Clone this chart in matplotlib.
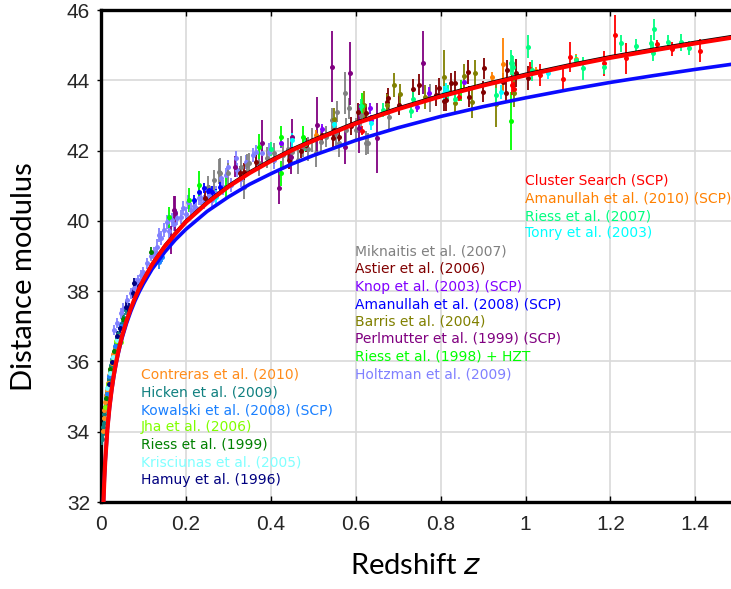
import matplotlib
matplotlib.use('Agg')
import matplotlib.pyplot as plt

# model curves (distance modulus vs redshift)
z_model = [0.005, 0.006, 0.008, 0.01, 0.015, 0.02, 0.025, 0.03, 0.035, 0.04, 0.045, 0.05, 0.06, 0.07,
           0.08, 0.09, 0.1, 0.12, 0.15, 0.175, 0.2, 0.25, 0.3, 0.35, 0.4, 0.45, 0.5, 0.6, 0.7, 0.8,
           0.9, 1.0, 1.1, 1.2, 1.3, 1.4, 1.5]
mu_lcdm = [31.66, 32.06, 32.69, 33.18, 34.07, 34.70, 35.19, 35.60, 35.94, 36.24, 36.50, 36.74, 37.15,
           37.50, 37.81, 38.08, 38.32, 38.75, 39.27, 39.63, 39.97, 40.51, 40.97, 41.36, 41.70, 42.01,
           42.28, 42.77, 43.18, 43.54, 43.85, 44.14, 44.40, 44.64, 44.85, 45.05, 45.24]
mu_eds = [31.66, 32.05, 32.68, 33.16, 34.05, 34.67, 35.16, 35.56, 35.90, 36.19, 36.45, 36.68, 37.08,
          37.42, 37.72, 37.98, 38.21, 38.62, 39.11, 39.46, 39.76, 40.27, 40.68, 41.04, 41.34, 41.62,
          41.86, 42.29, 42.65, 42.97, 43.25, 43.50, 43.73, 43.94, 44.13, 44.31, 44.48]
mu_fit = [31.74, 32.14, 32.77, 33.25, 34.14, 34.77, 35.26, 35.67, 36.00, 36.30, 36.56, 36.80, 37.21,
          37.56, 37.87, 38.14, 38.38, 38.81, 39.33, 39.69, 40.03, 40.57, 41.03, 41.42, 41.76, 42.07,
          42.34, 42.83, 43.24, 43.60, 43.91, 44.20, 44.46, 44.70, 44.91, 45.11, 45.30]

# supernova samples: (z, mu, err)
holtzman = [(0.031, 36.90, 0.15), (0.038, 37.09, 0.15), (0.046, 37.37, 0.15), (0.052, 37.50, 0.15),
            (0.062, 37.75, 0.15), (0.070, 37.94, 0.15), (0.078, 38.08, 0.15), (0.082, 38.22, 0.15),
            (0.086, 38.32, 0.15), (0.094, 38.46, 0.15), (0.100, 38.55, 0.15), (0.109, 38.79, 0.15),
            (0.117, 39.00, 0.15), (0.125, 39.05, 0.2), (0.129, 39.08, 0.15), (0.133, 39.27, 0.2),
            (0.137, 39.60, 0.2), (0.141, 39.50, 0.2), (0.149, 39.75, 0.2), (0.156, 39.98, 0.2),
            (0.160, 39.70, 0.2), (0.168, 40.03, 0.2), (0.172, 39.90, 0.2), (0.180, 40.07, 0.2),
            (0.188, 40.10, 0.2), (0.192, 40.36, 0.2), (0.200, 40.20, 0.2), (0.206, 40.55, 0.2),
            (0.211, 40.31, 0.2), (0.219, 40.41, 0.2), (0.223, 40.36, 0.2), (0.231, 40.64, 0.2),
            (0.235, 40.64, 0.2), (0.243, 40.55, 0.2), (0.251, 40.69, 0.2), (0.255, 40.74, 0.2),
            (0.262, 40.60, 0.2), (0.270, 40.79, 0.2), (0.282, 41.21, 0.2), (0.288, 40.95, 0.2),
            (0.294, 41.31, 0.2), (0.298, 41.54, 0.2), (0.306, 41.02, 0.2), (0.318, 41.78, 0.2),
            (0.321, 41.45, 0.2), (0.330, 41.20, 0.25), (0.341, 41.68, 0.2), (0.357, 41.87, 0.2),
            (0.365, 41.97, 0.2), (0.372, 41.55, 0.25), (0.380, 41.92, 0.2), (0.396, 41.97, 0.25),
            (0.408, 41.73, 0.25)]
hicken = [(0.003, 33.78, 0.15), (0.004, 33.95, 0.12), (0.005, 34.12, 0.12), (0.006, 34.25, 0.1),
          (0.007, 34.38, 0.12), (0.008, 34.50, 0.1), (0.009, 34.62, 0.1), (0.010, 34.70, 0.12),
          (0.011, 34.83, 0.1), (0.012, 34.92, 0.1), (0.013, 35.02, 0.12), (0.014, 35.10, 0.1),
          (0.015, 35.22, 0.1), (0.016, 35.28, 0.12), (0.018, 35.46, 0.1), (0.019, 35.52, 0.1),
          (0.021, 35.70, 0.12), (0.023, 35.82, 0.1), (0.024, 35.90, 0.1), (0.026, 36.03, 0.12),
          (0.028, 36.15, 0.1), (0.030, 36.24, 0.1), (0.032, 36.36, 0.12), (0.035, 36.50, 0.1),
          (0.038, 36.66, 0.12), (0.041, 36.78, 0.1), (0.045, 36.96, 0.12), (0.049, 37.06, 0.1),
          (0.054, 37.25, 0.12), (0.060, 37.45, 0.12)]
contreras = [(0.004, 34.02, 0.12), (0.006, 34.40, 0.1), (0.008, 34.62, 0.1), (0.010, 34.85, 0.12),
             (0.012, 35.05, 0.1), (0.014, 35.20, 0.1), (0.017, 35.40, 0.12), (0.020, 35.62, 0.1),
             (0.022, 35.78, 0.1), (0.025, 35.95, 0.12), (0.029, 36.20, 0.1), (0.033, 36.42, 0.12),
             (0.040, 36.72, 0.1)]
kowalski = [(0.013, 35.08, 0.12), (0.020, 35.58, 0.12), (0.027, 36.08, 0.1), (0.034, 36.45, 0.12),
            (0.047, 37.00, 0.12), (0.137, 38.83, 0.2), (0.143, 38.98, 0.15)]
jha = [(0.009, 34.70, 0.12), (0.016, 35.35, 0.12), (0.025, 36.00, 0.12), (0.036, 36.58, 0.1),
       (0.047, 36.55, 0.12)]
riess99 = [(0.012, 34.95, 0.15), (0.022, 35.78, 0.12), (0.031, 36.30, 0.12), (0.053, 37.20, 0.12),
           (0.117, 39.12, 0.15)]
krisciunas = [(0.015, 35.25, 0.1), (0.021, 35.68, 0.1), (0.028, 36.12, 0.1), (0.038, 36.62, 0.1)]
hamuy = [(0.018, 35.35, 0.15), (0.026, 35.98, 0.15), (0.038, 36.71, 0.15), (0.045, 36.95, 0.15),
         (0.058, 37.56, 0.15), (0.066, 37.47, 0.2), (0.075, 37.95, 0.15), (0.078, 38.22, 0.15),
         (0.090, 38.15, 0.2)]
miknaitis = [(0.251, 40.97, 0.3), (0.267, 41.16, 0.3), (0.278, 41.40, 0.35), (0.280, 41.35, 0.45),
             (0.298, 41.35, 0.3), (0.329, 41.54, 0.3), (0.337, 40.97, 0.35), (0.343, 41.59, 0.3),
             (0.349, 41.64, 0.3), (0.373, 41.64, 0.35), (0.390, 41.80, 0.3), (0.408, 41.92, 0.3),
             (0.428, 41.87, 0.35), (0.440, 42.05, 0.3), (0.451, 41.97, 0.3), (0.463, 41.73, 0.4),
             (0.475, 42.11, 0.3), (0.488, 42.05, 0.35), (0.498, 42.30, 0.35), (0.506, 41.92, 0.4),
             (0.518, 42.25, 0.3), (0.530, 42.40, 0.3), (0.544, 42.87, 0.35), (0.553, 42.49, 0.35),
             (0.557, 43.11, 0.3), (0.561, 42.21, 0.4), (0.575, 43.63, 0.6), (0.577, 42.59, 0.35),
             (0.585, 43.20, 0.3), (0.601, 42.59, 0.35), (0.612, 43.01, 0.3), (0.624, 42.21, 0.35),
             (0.628, 42.21, 0.3), (0.679, 42.96, 0.35), (0.774, 43.49, 0.4)]
astier = [(0.245, 40.64, 0.2), (0.327, 41.35, 0.2), (0.337, 41.40, 0.25), (0.365, 41.68, 0.2),
          (0.443, 41.73, 0.25), (0.470, 42.00, 0.2), (0.483, 42.16, 0.2), (0.520, 42.45, 0.25),
          (0.546, 42.35, 0.25), (0.549, 42.59, 0.2), (0.561, 42.40, 0.25), (0.590, 42.70, 0.25),
          (0.605, 43.11, 0.25), (0.624, 43.08, 0.25), (0.673, 43.39, 0.25), (0.676, 43.49, 0.3),
          (0.701, 43.30, 0.3), (0.734, 43.74, 0.3), (0.750, 43.87, 0.3), (0.788, 43.58, 0.3),
          (0.796, 43.77, 0.3), (0.809, 43.42, 0.3), (0.813, 43.44, 0.3), (0.825, 43.91, 0.3),
          (0.833, 43.91, 0.35), (0.864, 44.24, 0.35), (0.866, 43.53, 0.3), (0.899, 43.68, 0.3),
          (0.903, 44.34, 0.3), (0.947, 43.96, 0.25), (0.953, 43.65, 0.3), (0.956, 44.29, 0.3),
          (0.978, 44.20, 0.4), (1.005, 44.06, 0.35)]
knop = [(0.424, 42.21, 0.15), (0.520, 42.60, 0.15), (0.634, 43.20, 0.15), (0.636, 42.87, 0.15),
        (0.744, 43.25, 0.15), (0.772, 43.65, 0.15), (0.854, 43.96, 0.15)]
amanullah08 = [(0.220, 40.60, 0.15), (0.231, 40.83, 0.15), (0.243, 40.93, 0.15), (0.253, 40.85, 0.15),
               (0.255, 40.88, 0.15), (0.262, 40.83, 0.15), (0.270, 40.75, 0.15), (0.280, 40.95, 0.15)]
barris = [(0.550, 42.90, 0.3), (0.620, 43.30, 0.4), (0.674, 43.30, 0.3), (0.691, 43.87, 0.35),
          (0.704, 43.60, 0.3), (0.764, 43.53, 0.35), (0.809, 44.10, 0.75), (0.833, 43.35, 0.3),
          (0.854, 44.12, 0.35), (0.874, 43.39, 0.45), (0.880, 44.22, 0.35), (0.931, 43.33, 0.65),
          (0.974, 43.63, 0.4)]
perlmutter = [(0.164, 39.46, 0.4), (0.172, 40.31, 0.4), (0.174, 40.22, 0.5), (0.316, 41.54, 0.3),
              (0.380, 42.21, 0.66), (0.420, 40.93, 0.45), (0.447, 41.83, 0.5), (0.450, 42.40, 0.5),
              (0.510, 42.73, 0.8), (0.544, 44.39, 1.0), (0.575, 42.11, 0.5), (0.587, 44.20, 0.9),
              (0.608, 42.63, 0.7), (0.650, 42.35, 1.0), (0.758, 44.50, 0.9)]
riess98 = [(0.160, 40.10, 0.3), (0.208, 40.59, 0.35), (0.231, 41.02, 0.4), (0.294, 40.97, 0.3),
           (0.373, 42.11, 0.35), (0.424, 42.40, 0.3), (0.424, 41.35, 0.35), (0.475, 42.40, 0.3),
           (0.615, 43.28, 0.35), (0.848, 43.72, 0.3), (0.965, 42.85, 0.83)]
cluster = [(0.616, 42.57, 0.12), (0.844, 43.53, 0.12), (0.969, 43.87, 0.3), (0.972, 43.74, 0.2),
           (1.011, 44.31, 0.2), (1.033, 44.15, 0.3), (1.088, 44.03, 0.28), (1.104, 44.67, 0.43),
           (1.186, 44.48, 0.36), (1.210, 45.29, 0.57), (1.237, 44.62, 0.45), (1.310, 45.02, 0.12),
           (1.346, 44.88, 0.2), (1.410, 44.84, 0.33)]
amanullah10 = [(0.506, 42.44, 0.15), (0.920, 44.10, 0.15), (0.948, 44.45, 0.75), (1.024, 44.26, 0.12),
               (1.120, 44.61, 0.15)]
riess07 = [(0.400, 42.05, 0.2), (0.480, 42.20, 0.2), (0.612, 43.28, 0.2), (0.664, 43.16, 0.2),
           (0.731, 43.14, 0.2), (0.734, 43.46, 0.2), (0.817, 43.68, 0.2), (0.833, 43.47, 0.2),
           (0.931, 43.58, 0.2), (0.966, 44.50, 0.35), (0.969, 44.48, 0.25), (0.970, 44.39, 0.3),
           (1.005, 44.96, 0.33), (1.015, 44.29, 0.3), (1.120, 44.58, 0.15), (1.135, 44.34, 0.33),
           (1.186, 44.39, 0.2), (1.226, 45.05, 0.25), (1.261, 44.98, 0.2), (1.296, 45.05, 0.25),
           (1.300, 44.79, 0.25), (1.302, 45.45, 0.3), (1.336, 45.10, 0.2), (1.366, 45.08, 0.25),
           (1.385, 44.93, 0.2)]
tonry = [(0.270, 40.69, 0.2), (0.451, 42.30, 0.2), (0.550, 42.75, 0.2), (0.636, 42.78, 0.2),
         (0.809, 43.63, 0.2), (0.813, 43.72, 0.2), (0.943, 43.68, 0.2), (1.053, 44.20, 0.15)]

# drawing order, colour, legend label
samples = [
    (holtzman, '#8080ff', 'Holtzman et al. (2009)'),
    (miknaitis, '#808080', 'Miknaitis et al. (2007)'),
    (astier, '#800000', 'Astier et al. (2006)'),
    (hicken, '#108080', 'Hicken et al. (2009)'),
    (contreras, '#ff8c1a', 'Contreras et al. (2010)'),
    (kowalski, '#1a80ff', 'Kowalski et al. (2008) (SCP)'),
    (jha, '#80ff00', 'Jha et al. (2006)'),
    (riess99, '#008000', 'Riess et al. (1999)'),
    (krisciunas, '#80ffff', 'Krisciunas et al. (2005)'),
    (hamuy, '#000080', 'Hamuy et al. (1996)'),
    (knop, '#8000ff', 'Knop et al. (2003) (SCP)'),
    (amanullah08, '#0000ff', 'Amanullah et al. (2008) (SCP)'),
    (barris, '#808000', 'Barris et al. (2004)'),
    (perlmutter, '#800080', 'Perlmutter et al. (1999) (SCP)'),
    (riess98, '#00ff00', 'Riess et al. (1998) + HZT'),
    (cluster, '#ff0000', 'Cluster Search (SCP)'),
    (amanullah10, '#ff8000', 'Amanullah et al. (2010) (SCP)'),
    (riess07, '#00ff80', 'Riess et al. (2007)'),
    (tonry, '#00ffff', 'Tonry et al. (2003)'),
]
colors = {lab: c for _, c, lab in samples}

# label columns
labels_low = ['Contreras et al. (2010)', 'Hicken et al. (2009)', 'Kowalski et al. (2008) (SCP)',
              'Jha et al. (2006)', 'Riess et al. (1999)', 'Krisciunas et al. (2005)', 'Hamuy et al. (1996)']
labels_mid = ['Miknaitis et al. (2007)', 'Astier et al. (2006)', 'Knop et al. (2003) (SCP)',
              'Amanullah et al. (2008) (SCP)', 'Barris et al. (2004)', 'Perlmutter et al. (1999) (SCP)',
              'Riess et al. (1998) + HZT', 'Holtzman et al. (2009)']
labels_high = ['Cluster Search (SCP)', 'Amanullah et al. (2010) (SCP)', 'Riess et al. (2007)',
               'Tonry et al. (2003)']

W, H = 731, 589
fig = plt.figure(figsize=(W / 100, H / 100), dpi=100)
ax = fig.add_axes([101 / W, 1 - 502 / H, 1 - 101 / W, 492 / H])

for data, c, lab in samples:
    z = [d[0] for d in data]
    mu = [d[1] for d in data]
    err = [d[2] for d in data]
    ax.errorbar(z, mu, yerr=err, fmt='o', color=c, ms=3.6, mew=0, elinewidth=1.3,
                capsize=0, zorder=3)

ax.plot(z_model, mu_fit, color='black', lw=1.0, zorder=4)
ax.plot(z_model, mu_eds, color='#0a0aff', lw=2.6, zorder=5)
ax.plot(z_model, mu_lcdm, color='#ff0000', lw=3.0, zorder=6)

ax.set_xlim(0, (W - 101) / 424.5)
ax.set_ylim(32, 46)
ax.set_xticks([0, 0.2, 0.4, 0.6, 0.8, 1.0, 1.2, 1.4])
ax.set_xticklabels(['0', '0.2', '0.4', '0.6', '0.8', '1', '1.2', '1.4'])
ax.set_yticks([32, 34, 36, 38, 40, 42, 44, 46])
ax.grid(True, color='#d9d9d9', lw=1.2, zorder=0)
ax.set_axisbelow(True)

for s in ['left', 'bottom', 'top']:
    ax.spines[s].set_linewidth(2.4)
    ax.spines[s].set_color('black')
ax.spines['right'].set_visible(False)

ax.tick_params(axis='x', direction='in', length=4, width=1, top=True, pad=9,
               labelsize=15, labelcolor='#262626')
ax.tick_params(axis='y', direction='out', length=3, width=1, pad=5,
               labelsize=15, labelcolor='#262626')
for t in ax.get_xticklabels() + ax.get_yticklabels():
    t.set_fontfamily('Liberation Sans')

plt.rcParams['mathtext.fontset'] = 'custom'
plt.rcParams['mathtext.it'] = 'Lato:italic'
plt.rcParams['mathtext.rm'] = 'Lato'
ax.set_xlabel('Redshift $z$', fontsize=21, family='Lato', color='black')
ax.set_ylabel('Distance modulus', fontsize=21, family='Lato', color='black')
ax.xaxis.set_label_coords(0.5, (502 - 566) / 492)
ax.xaxis.label.set_va('center')
ax.yaxis.set_label_coords((24 - 101) / 630, (502 - 277) / 492)
ax.yaxis.label.set_va('center')

for col, x0, y0 in [(labels_low, 141, 375), (labels_mid, 355, 251.5), (labels_high, 525, 181)]:
    for i, lab in enumerate(col):
        fig.text(x0 / W, 1 - (y0 + i * 17.5) / H, lab, color=colors[lab], fontsize=10,
                 family='DejaVu Sans', va='center', ha='left', zorder=10)

plt.savefig('out.png', dpi=100)
